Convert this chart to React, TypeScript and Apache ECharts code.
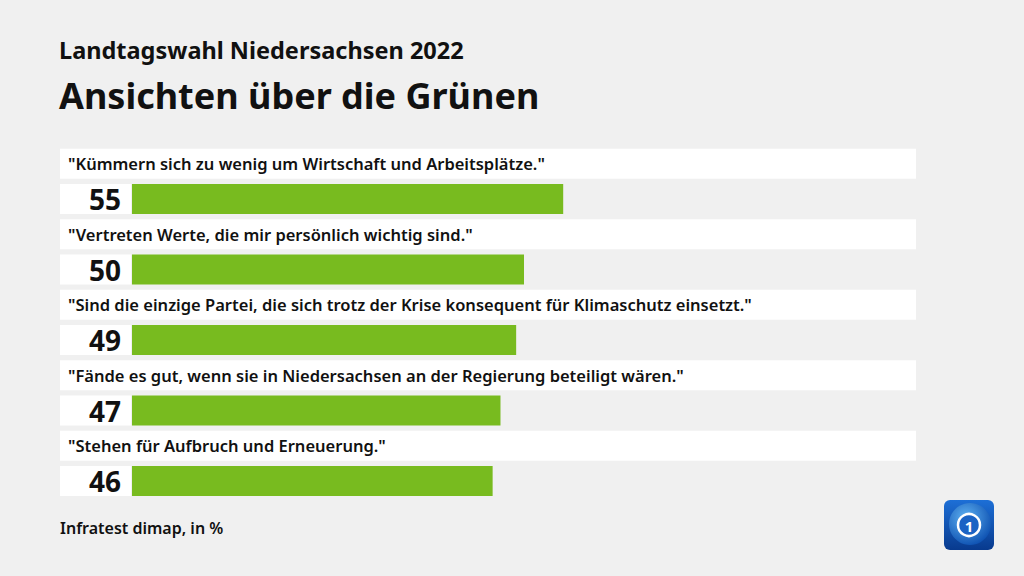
import React, { useEffect, useRef } from "react";
import * as echarts from "echarts";

const categories = [
  "\"Kümmern sich zu wenig um Wirtschaft und Arbeitsplätze.\"",
  "\"Vertreten Werte, die mir persönlich wichtig sind.\"",
  "\"Sind die einzige Partei, die sich trotz der Krise konsequent für Klimaschutz einsetzt.\"",
  "\"Fände es gut, wenn sie in Niedersachsen an der Regierung beteiligt wären.\"",
  "\"Stehen für Aufbruch und Erneuerung.\"",
];
const values = [55, 50, 49, 47, 46];

const supTitle = "Landtagswahl Niedersachsen 2022";
const mainTitle = "Ansichten über die Grünen";
const source = "Infratest dimap, in %";

const FONT = "'Noto Sans', 'Open Sans', sans-serif";
const GREEN = "#78bb1f";
const TEXT = "#111111";

export default function App() {
  const ref = useRef<HTMLDivElement>(null);
  useEffect(() => {
    if (!ref.current) return;
    const chart = echarts.init(ref.current, null, { renderer: "svg" });
    chart.setOption({
      animation: false,
      backgroundColor: "#f0f0f0",
      grid: { left: 132, right: 108, top: 146, height: 352.5 },
      xAxis: { type: "value", min: 0, max: 100, show: false },
      yAxis: { type: "category", data: categories, inverse: true, show: false },
      graphic: [
        {
          type: "text",
          x: 59,
          y: 50,
          style: { text: supTitle, fontSize: 23.5, fontWeight: "bold", fontFamily: FONT, fill: TEXT, verticalAlign: "middle" },
        },
        {
          type: "text",
          x: 59,
          y: 95,
          style: { text: mainTitle, fontSize: 36, fontWeight: "bold", fontFamily: FONT, fill: TEXT, verticalAlign: "middle" },
        },
        {
          type: "text",
          x: 60,
          y: 528,
          style: { text: source, fontSize: 16, fontWeight: 600, fontFamily: FONT, fill: TEXT, verticalAlign: "middle" },
        },
        {
          type: "group",
          x: 944,
          y: 500,
          children: [
            {
              type: "rect",
              shape: { x: 0, y: 0, width: 50, height: 50, r: 6 },
              style: {
                fill: new echarts.graphic.LinearGradient(0, 0, 0, 1, [
                  { offset: 0, color: "#1d6fd6" },
                  { offset: 1, color: "#083a8e" },
                ]),
              },
            },
            {
              type: "circle",
              shape: { cx: 26, cy: 24, r: 21 },
              style: {
                fill: new echarts.graphic.RadialGradient(0.4, 0.35, 0.7, [
                  { offset: 0, color: "#5fb2f2" },
                  { offset: 1, color: "#0c4fb0" },
                ]),
              },
            },
            {
              type: "circle",
              shape: { cx: 25, cy: 25, r: 11 },
              style: { fill: "#1b63c4", stroke: "#ffffff", lineWidth: 2.5 },
            },
            {
              type: "text",
              x: 25,
              y: 25.5,
              style: { text: "1", fontSize: 15, fontWeight: 700, fontFamily: FONT, fill: "#ffffff", align: "center", verticalAlign: "middle" },
            },
          ],
        },
      ],
      series: [
        {
          type: "custom",
          clip: false,
          data: values.map((v, i) => [v, i]),
          encode: { x: 0, y: 1 },
          renderItem: (params: any, api: any) => {
            const i = api.value(1);
            const v = api.value(0);
            const p0 = api.coord([0, i]);
            const pv = api.coord([v, i]);
            const p100 = api.coord([100, i]);
            const cy = p0[1];
            const left = p0[0] - 72;
            return {
              type: "group",
              children: [
                {
                  type: "rect",
                  shape: { x: left, y: cy - 32.5, width: p100[0] - left, height: 30 },
                  style: { fill: "#ffffff" },
                },
                {
                  type: "text",
                  x: left + 8,
                  y: cy - 17.5,
                  style: {
                    text: categories[i],
                    fontSize: 16.5,
                    fontWeight: 600,
                    fontFamily: FONT,
                    fill: TEXT,
                    align: "left",
                    verticalAlign: "middle",
                  },
                },
                {
                  type: "rect",
                  shape: { x: left, y: cy + 2.75, width: p0[0] - 1 - left, height: 30 },
                  style: { fill: "#ffffff" },
                },
                {
                  type: "text",
                  x: p0[0] - 11,
                  y: cy + 18,
                  style: {
                    text: String(v),
                    fontSize: 28,
                    fontWeight: 700,
                    fontFamily: FONT,
                    fill: TEXT,
                    align: "right",
                    verticalAlign: "middle",
                  },
                },
                {
                  type: "rect",
                  shape: { x: p0[0], y: cy + 2.75, width: pv[0] - p0[0], height: 30 },
                  style: { fill: GREEN },
                },
              ],
            };
          },
        },
      ],
    });
    return () => chart.dispose();
  }, []);
  return <div ref={ref} style={{ position: "fixed", left: 0, top: 0, width: 1024, height: 576 }} />;
}
